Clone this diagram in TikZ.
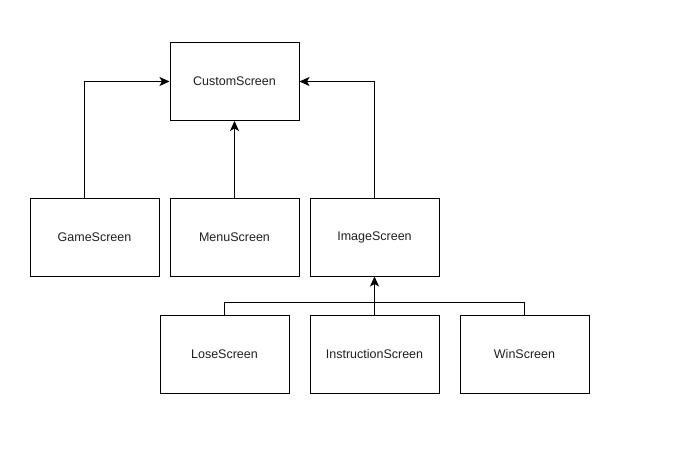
\documentclass[tikz,border=0pt]{standalone}
\usepackage{fontspec}
\setmainfont{Liberation Sans}
\usetikzlibrary{arrows.meta}
\begin{document}
\begin{tikzpicture}[x=1pt,y=-1pt,
  cls/.style={draw=black, line width=1pt, minimum width=129pt, minimum height=78pt, inner sep=0pt, font=\fontsize{12.5}{14}\selectfont, text=black!88},
  conn/.style={draw=black, line width=1pt},
  arr/.style={conn, -{Stealth[length=10pt,width=9pt,inset=2.5pt]}}]
\useasboundingbox (0,0) rectangle (679,461);
\node[cls] (custom) at (234.5,81.5) {CustomScreen};
\node[cls] (game) at (94.5,237) {GameScreen};
\node[cls] (menu) at (234.5,237) {MenuScreen};
\node[cls] (image) at (374.5,237) {ImageScreen};
\node[cls] (lose) at (224.5,354) {LoseScreen};
\node[cls] (instr) at (374.5,354) {InstructionScreen};
\node[cls] (win) at (524.5,354) {WinScreen};
\coordinate (j) at (374.5,302.5);
\coordinate (g) at ([xshift=-10pt]game.north);
\draw[arr] (g) |- (custom.west);
\draw[arr] (menu.north) -- (custom.south);
\draw[arr] (image.north) |- (custom.east);
\draw[arr] (instr.north) -- (image.south);
\draw[conn] (lose.north) |- (j) -| (win.north);
\end{tikzpicture}
\end{document}
